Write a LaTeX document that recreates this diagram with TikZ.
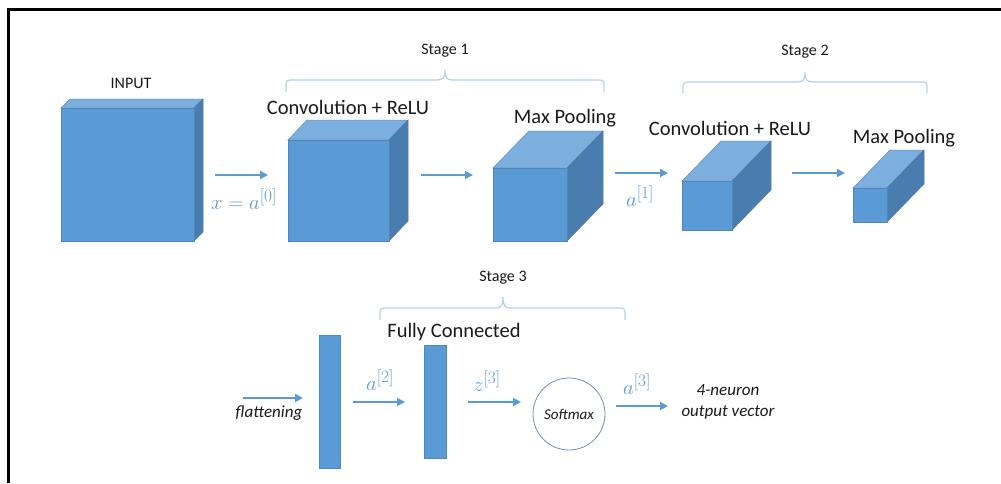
\documentclass[tikz,border=0pt]{standalone}
\usepackage{fontspec}
\setmainfont{Carlito}
\usetikzlibrary{arrows.meta}
\DeclareMathSizes{22}{22}{16}{12}
\definecolor{frontc}{HTML}{5B9BD5}
\definecolor{topc}{HTML}{7CAFDD}
\definecolor{sidec}{HTML}{4A7DAF}
\definecolor{edgec}{HTML}{4A78A6}
\definecolor{arrowc}{HTML}{5B9BD5}
\definecolor{bracec}{HTML}{B4D0EC}
\definecolor{circc}{HTML}{7090B8}
\definecolor{txtc}{HTML}{1A1A1A}
\tikzset{
  lbl/.style={text=txtc, font=\fontsize{20.5}{22}\selectfont, inner sep=0pt},
  small/.style={text=txtc, font=\fontsize{16}{18}\selectfont, inner sep=0pt},
  ital/.style={text=txtc, font=\fontsize{17}{20.5}\selectfont\itshape, inner sep=0pt, align=center},
  mlbl/.style={text=arrowc, font=\fontsize{22}{24}\selectfont, inner sep=0pt},
  arr/.style={draw=arrowc, line width=1.8pt, -{Triangle[length=8pt,width=8pt]}},
  bracepath/.style={draw=bracec, line width=1.2pt},
  bar/.style={fill=frontc, draw=edgec!60!frontc, line width=0.5pt, inner sep=0pt, outer sep=0pt},
  facetop/.style={fill=topc, draw=edgec!60!topc, line width=0.5pt},
  faceside/.style={fill=sidec, draw=edgec, line width=0.5pt},
  facefront/.style={fill=frontc, draw=edgec!60!frontc, line width=0.5pt, inner sep=0pt, outer sep=0pt, anchor=north west},
}
% name, x, y, w, h, dx, dy
\newcommand{\mycube}[7]{%
  \path[facetop] (#2,#3) -- ++(#6,-#7) -- ++(#4,0) -- ++(-#6,#7) -- cycle;
  \path[faceside] ({#2+#4},#3) -- ++(#6,-#7) -- ++(0,#5) -- ++(-#6,#7) -- cycle;
  \node[facefront, minimum width=#4pt, minimum height=#5pt] (#1) at (#2,#3) {};
}
% L, R, M, ytop, yend, ytip
\newcommand{\mybrace}[6]{%
  \path[bracepath] (#1,#5) -- (#1,{#4+8}) .. controls (#1,#4) and (#1,#4) .. ({#1+8},#4)
    -- ({#3-8},#4) .. controls ({#3-2},#4) and (#3,{#4-2}) .. (#3,#6)
    .. controls (#3,{#4-2}) and ({#3+2},#4) .. ({#3+8},#4)
    -- ({#2-8},#4) .. controls (#2,#4) and (#2,#4) .. (#2,{#4+8}) -- (#2,#5);
}
\begin{document}
\begin{tikzpicture}[x=1pt,y=-1pt]
\useasboundingbox (0,0) rectangle (1001,483);
\fill[white] (0,0) rectangle (1001,483);
% frame
\draw[black, line width=2.5pt] (8.3,483) -- (8.3,9.3) -- (1001,9.3);

% cubes
\mycube{input}{61}{108}{133}{133}{9}{9}
\mycube{conva}{288}{140}{101}{101}{19}{20}
\mycube{poola}{493}{168}{74}{73}{36}{37}
\mycube{convb}{682}{181}{50}{49}{39}{40}
\mycube{poolb}{853}{188}{34}{34}{37}{38}

% labels
\node[small] (inputlbl) at (131,83) {INPUT};
\node[lbl] (convalbl) at (348,107) {Convolution + ReLU};
\node[lbl] (poolalbl) at (565,118) {Max Pooling};
\node[lbl] (convblbl) at (730,128) {Convolution + ReLU};
\node[lbl] (poolblbl) at (904,138) {Max Pooling};

% braces and stage labels
\mybrace{286}{604}{445}{80}{92}{70}
\mybrace{683}{927}{805}{82}{93}{72}
\mybrace{380}{625}{503}{308}{320}{297}
\node[small] (stagea) at (445,51) {Stage 1};
\node[small] (stageb) at (805,52) {Stage 2};
\node[small] (stagec) at (503,278) {Stage 3};

% top row arrows
\coordinate (a0s) at (215,175); \coordinate (a0e) at (268,175);
\coordinate (c1s) at (421,175); \coordinate (c1e) at (473,175);
\coordinate (a1s) at (615,173); \coordinate (a1e) at (668,173);
\coordinate (c2s) at (792,173); \coordinate (c2e) at (845,173);
\draw[arr] (a0s) -- (a0e);
\draw[arr] (c1s) -- (c1e);
\draw[arr] (a1s) -- (a1e);
\draw[arr] (c2s) -- (c2e);
\node[mlbl] (a0lbl) at (244,199) {$x = a^{[0]}$};
\node[mlbl] (a1lbl) at (640,196) {$a^{[1]}$};

% bottom row
\node[bar, minimum width=21pt, minimum height=133pt] (bara) at (329.5,401.5) {};
\node[bar, minimum width=22pt, minimum height=113pt] (barb) at (435,401.5) {};
\node[circle, draw=circc, line width=0.8pt, minimum size=72pt, inner sep=0pt,
      text=txtc, font=\fontsize{15}{17}\selectfont\itshape] (soft) at (569,414) {Softmax};
\node[lbl] (fclbl) at (454,332) {Fully Connected};
\node[ital] (flat) at (269,413) {flattening};
\node[ital] (outv) at (728,402) {4-neuron\\output vector};

\coordinate (fls) at (243,398); \coordinate (fle) at (303,398);
\coordinate (a2s) at (353,402); \coordinate (a2e) at (405,402);
\coordinate (z3s) at (468,402); \coordinate (z3e) at (521,402);
\coordinate (a3s) at (616,406); \coordinate (a3e) at (668,406);
\draw[arr] (fls) -- (fle);
\draw[arr] (a2s) -- (a2e);
\draw[arr] (z3s) -- (z3e);
\draw[arr] (a3s) -- (a3e);
\node[mlbl] (a2lbl) at (380,380) {$a^{[2]}$};
\node[mlbl] (z3lbl) at (487,381) {$z^{[3]}$};
\node[mlbl] (a3lbl) at (637,384) {$a^{[3]}$};
\end{tikzpicture}
\end{document}
